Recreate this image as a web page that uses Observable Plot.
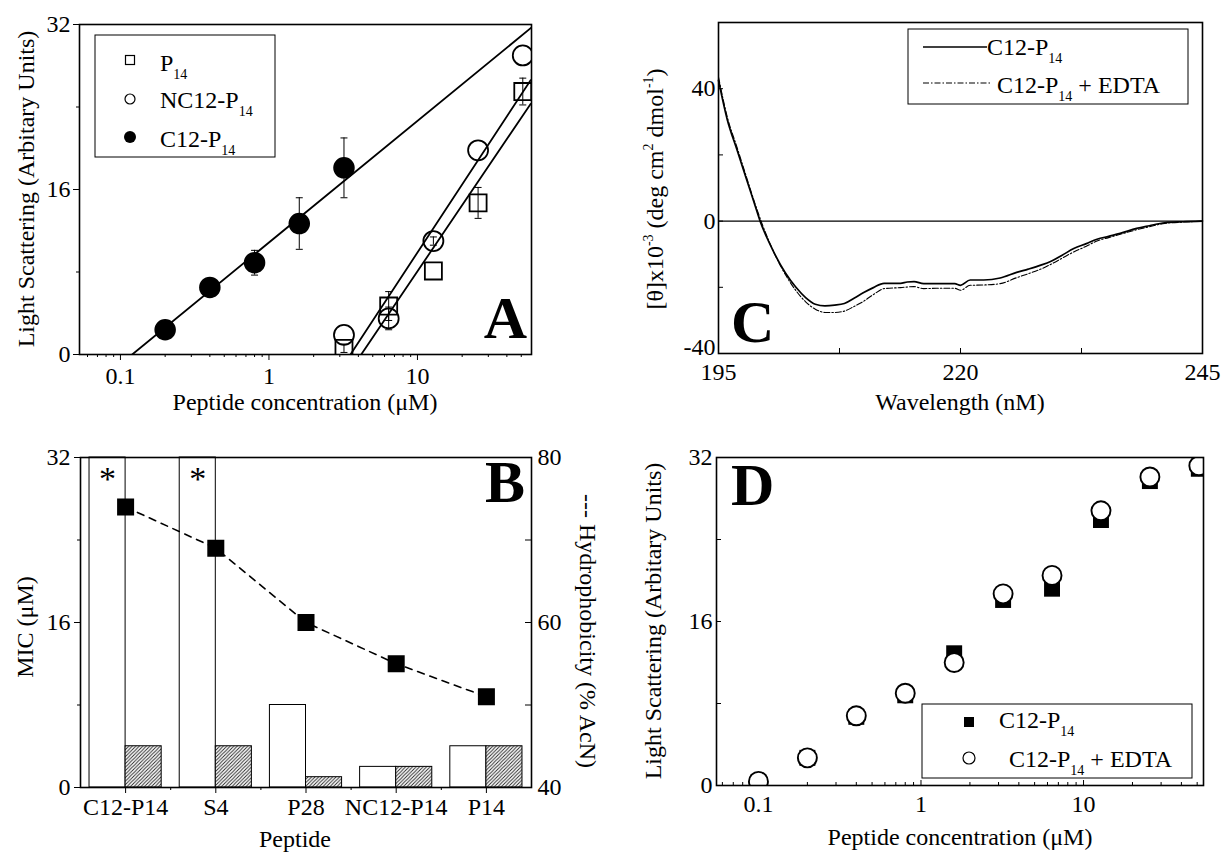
<!DOCTYPE html>
<html>
<head>
<meta charset="utf-8">
<script src="https://cdn.jsdelivr.net/npm/d3@7"></script>
<script src="https://cdn.jsdelivr.net/npm/@observablehq/plot@0.6"></script>
<style>
html,body{margin:0;padding:0;background:#fff;overflow:hidden;}
#fig{position:relative;width:1223px;height:854px;background:#fff;}
#fig svg{position:absolute;left:0;top:0;}
</style>
</head>
<body>
<div id="fig"></div>
<script>
// ================= DATA =================
// Panel A : light scattering vs peptide concentration (log axis)
const aC12Conc = [0.2, 0.4, 0.8, 1.6, 3.2];
const aC12Scatter = [2.4, 6.5, 8.9, 12.7, 18.1];
const aC12Err = [0.4, 0.4, 1.2, 2.5, 2.9];
const aConc = [3.2, 6.4, 12.8, 25.6, 51.2];
const aP14Scatter = [0.6, 4.7, 8.1, 14.7, 25.5];
const aP14Err = [0.4, 1.4, 0, 1.5, 1.3];
const aNC12Scatter = [1.9, 3.5, 11.0, 19.8, 29.0];
const aNC12Err = [0, 1.1, 0.4, 0, 0];
// fitted lines (end points)
const aFitC12Conc = [0.12, 62];
const aFitC12Val = [0, 32];
const aFitP14Conc = [3.54, 57.8];
const aFitP14Val = [0, 26.6];
const aFitNC12Conc = [4.18, 57.8];
const aFitNC12Val = [0, 24.3];

// Panel B : MIC bars and hydrophobicity
const bPeptides = ["C12-P14", "S4", "P28", "NC12-P14", "P14"];
const bMicOpen = [32, 32, 8, 2, 4];
const bMicOver = [true, true, false, false, false];
const bMicHatched = [4, 4, 1, 2, 4];
const bHydrophobicity = [74, 69, 60, 55, 51];

// Panel C : CD spectra
const cWaveSolid = [195,195.9,196.9,197.9,198.8,199.3,200.4,201.9,203,204,205,206,207,208,209,210,211,212.1,213,213.8,214.5,215.2,216.2,217.5,219.4,220,221,222.4,224.1,225.8,227,228.3,229.3,230.5,231.7,233,234.1,235.3,236.5,238.2,239.5,241.1,243,245];
const cThetaSolid = [42.5,30.7,21.6,12.6,4.5,0,-7.5,-15.6,-20,-23.1,-25.1,-25.6,-25.4,-24.9,-23.3,-21.6,-20.1,-18.8,-18.8,-18.8,-18.4,-18.3,-18.9,-18.9,-18.9,-19.4,-17.8,-17.8,-17.2,-15.5,-14.5,-13.3,-12.2,-10.3,-8.3,-6.8,-5.5,-4.6,-3.7,-2.2,-1.4,-0.5,-0.2,0];
const cWaveEdta = [195,195.9,196.9,197.9,198.8,199.4,200.5,202,203,204,205,206,207,208,209,210,211,212.1,213.8,215.2,216.2,217.5,219.4,220,221,222.4,224.1,225.8,227,228.3,229.5,230.5,231.7,233,234.1,235.3,236.5,238.2,239.5,241.1,243,245];
const cThetaEdta = [43.5,31.5,22.4,13.2,5,0,-8,-16.6,-21,-24.4,-26.6,-27.6,-27.6,-27.2,-25.8,-24.2,-22.2,-20.4,-20.1,-19.8,-20.4,-20.3,-20.3,-20.9,-19.4,-19.3,-18.9,-17.1,-15.9,-14.5,-12.8,-11.2,-9.3,-7.6,-6,-5,-4,-2.6,-1.7,-0.7,-0.3,0];

// Panel D : light scattering with / without EDTA
const dConc = [0.1, 0.2, 0.4, 0.8, 1.6, 3.2, 6.4, 12.8, 25.6, 51.2];
const dC12 = [0.3, 2.7, 6.7, 8.8, 12.9, 18.1, 19.2, 25.9, 29.7, 30.9];
const dEdta = [0.4, 2.7, 6.8, 9.0, 12.0, 18.7, 20.5, 26.8, 30.1, 31.2];

// Tick values
const concMajorTicks = [0.1, 1, 10];
const concMinorTicks = [0.06,0.07,0.08,0.09,0.2,0.3,0.4,0.5,0.6,0.7,0.8,0.9,2,3,4,5,6,7,8,9,20,30,40,50];
const scatterTicks = [0, 16, 32];
const scatterMinorTicks = [8, 24];
const hydroTicks = [40, 60, 80];
const hydroMinorTicks = [50, 70];
const waveTicks = [195, 220, 245];
const waveMinorTicks = [207.5, 232.5];
const thetaTicks = [-40, 0, 40];
const thetaMinorTicks = [-20, 20];

// ================= HELPERS =================
const FONT = '"Liberation Serif","Times New Roman",Times,serif';
const W = 1223, H = 854;
const fig = document.getElementById("fig");
const zip = (keys, ...cols) => cols[0].map((_, i) => Object.fromEntries(keys.map((k, j) => [k, cols[j][i]])));
const baseStyle = {fontFamily: FONT, fontSize: "24px", background: "transparent", maxWidth: "none", overflow: "visible", color: "black"};
const capSymbol = {draw(ctx, size) {const w = Math.sqrt(size / Math.PI); ctx.moveTo(-w, 0); ctx.lineTo(w, 0);}};
function mount(svg) {fig.appendChild(svg); return d3.select(svg);}
function richText(sel, x, y, parts, {size = 24, anchor = "start", rotate = 0, weight = null} = {}) {
  const t = sel.append("text").attr("x", x).attr("y", y)
    .attr("font-family", FONT).attr("font-size", size).attr("text-anchor", anchor).attr("fill", "black");
  if (weight) t.attr("font-weight", weight);
  if (rotate) t.attr("transform", `rotate(${rotate},${x},${y})`);
  let shift = 0;
  for (const p of parts) {
    const [txt, kind] = Array.isArray(p) ? p : [p, null];
    const target = kind === "sub" ? Math.round(size * 0.33) : kind === "sup" ? -Math.round(size * 0.4) : 0;
    const ts = t.append("tspan").text(txt).attr("dy", target - shift);
    if (kind) ts.attr("font-size", Math.round(size * 0.58));
    shift = target;
  }
  return t;
}
const frameOpts = (F) => ({width: W, height: H, marginLeft: F.l, marginRight: W - F.r, marginTop: F.t, marginBottom: H - F.b});

// ================= PANEL A =================
const FA = {l: 79, r: 531, t: 24, b: 354};
const aC12 = zip(["conc", "v", "e"], aC12Conc, aC12Scatter, aC12Err);
const aP14 = zip(["conc", "v", "e"], aConc, aP14Scatter, aP14Err);
const aNC12 = zip(["conc", "v", "e"], aConc, aNC12Scatter, aNC12Err);
const aErr = [...aC12, ...aP14, ...aNC12].filter(d => d.e > 0);
const aFits = [
  zip(["conc", "v"], aFitC12Conc, aFitC12Val),
  zip(["conc", "v"], aFitP14Conc, aFitP14Val),
  zip(["conc", "v"], aFitNC12Conc, aFitNC12Val)
];
const svgA = Plot.plot({
  ...frameOpts(FA),
  style: baseStyle,
  x: {type: "log", domain: [0.053, 58.6]},
  y: {domain: [0, 32]},
  marks: [
    Plot.axisX({ticks: concMinorTicks, tickSize: 3, tickFormat: () => "", label: null}),
    Plot.axisX({ticks: concMajorTicks, tickSize: 6, tickPadding: 6, tickFormat: d => String(d), label: null}),
    Plot.axisY({ticks: scatterMinorTicks, tickSize: 3, tickFormat: () => "", label: null}),
    Plot.axisY({ticks: scatterTicks, tickSize: 6, tickPadding: 3, tickFormat: d => String(d), label: null}),
    ...aFits.map(f => Plot.line(f, {x: "conc", y: "v", stroke: "black", strokeWidth: 1.8, clip: true})),
    Plot.ruleX(aErr, {x: "conc", y1: d => d.v - d.e, y2: d => d.v + d.e, stroke: "black", strokeWidth: 1}),
    Plot.dot(aErr, {x: "conc", y: d => d.v + d.e, symbol: capSymbol, r: 3.5, stroke: "black", strokeWidth: 1}),
    Plot.dot(aErr, {x: "conc", y: d => d.v - d.e, symbol: capSymbol, r: 3.5, stroke: "black", strokeWidth: 1}),
    Plot.dot(aC12, {x: "conc", y: "v", r: 10, fill: "black", stroke: "black"}),
    Plot.dot(aNC12, {x: "conc", y: "v", r: 10, fill: "none", stroke: "black", strokeWidth: 1.8, clip: true}),
    Plot.dot(aP14, {x: "conc", y: "v", symbol: "square", r: 9.6, fill: "none", stroke: "black", strokeWidth: 1.8, clip: true}),
    Plot.frame({stroke: "black", strokeWidth: 1.6})
  ]
});
const sA = mount(svgA);
{
  const g = sA.append("g");
  g.append("rect").attr("x", 95).attr("y", 35).attr("width", 180).attr("height", 122)
    .attr("fill", "white").attr("stroke", "black").attr("stroke-width", 1);
  g.append("rect").attr("x", 125.5).attr("y", 55.5).attr("width", 9).attr("height", 9)
    .attr("fill", "none").attr("stroke", "black").attr("stroke-width", 1.2);
  g.append("circle").attr("cx", 130).attr("cy", 99).attr("r", 5).attr("fill", "none").attr("stroke", "black").attr("stroke-width", 1.2);
  g.append("circle").attr("cx", 130).attr("cy", 137).attr("r", 6).attr("fill", "black");
  richText(g, 160, 71, ["P", ["14", "sub"]], {size: 24});
  richText(g, 160, 108, ["NC12-P", ["14", "sub"]], {size: 24});
  richText(g, 160, 147, ["C12-P", ["14", "sub"]], {size: 24});
  richText(sA, 34, 189, ["Light Scattering (Arbitary Units)"], {size: 24, anchor: "middle", rotate: -90});
  richText(sA, 305, 410, ["Peptide concentration (\u03BCM)"], {size: 24, anchor: "middle"});
  richText(sA, 527, 338, ["A"], {size: 60, anchor: "end", weight: "bold"});
}

// ================= PANEL B =================
const FB = {l: 80, r: 531, t: 457, b: 787};
const bData = bPeptides.map((p, i) => ({i, p, open: bMicOpen[i], over: bMicOver[i], hatched: bMicHatched[i], h: bHydrophobicity[i]}));
const hy = h => (h - 40) * 32 / 40; // hydrophobicity (40..80 %) onto the MIC axis (0..32)
const svgB = Plot.plot({
  ...frameOpts(FB),
  style: baseStyle,
  x: {domain: [-0.5, 4.5]},
  y: {domain: [0, 32]},
  marks: [
    Plot.rect(bData, {x1: d => d.i - 0.4, x2: "i", y1: 0, y2: "open", fill: "white", stroke: "black", strokeWidth: 1}),
    Plot.rect(bData, {x1: "i", x2: d => d.i + 0.4, y1: 0, y2: "hatched", fill: "url(#hatchB)", stroke: "black", strokeWidth: 1}),
    Plot.line(bData, {x: "i", y: d => hy(d.h), stroke: "black", strokeWidth: 1.6, strokeDasharray: "7,6"}),
    Plot.dot(bData, {x: "i", y: d => hy(d.h), symbol: "square", r: 9.6, fill: "black"}),
    Plot.text(bData.filter(d => d.over), {x: d => d.i - 0.2, y: 32, text: () => "*", dy: 22, fontSize: 34}),
    Plot.axisX({ticks: [0, 1, 2, 3, 4], tickSize: 6, tickPadding: 4, tickFormat: i => bPeptides[i], label: null}),
    Plot.axisX({ticks: [0.5, 1.5, 2.5, 3.5], tickSize: 3, tickFormat: () => "", label: null}),
    Plot.axisY({ticks: scatterTicks, tickSize: 6, tickPadding: 4, tickFormat: d => String(d), label: null}),
    Plot.axisY({ticks: scatterMinorTicks, tickSize: 3, tickFormat: () => "", label: null}),
    Plot.axisY({anchor: "right", ticks: hydroTicks.map(hy), tickSize: 0, tickPadding: 6, tickFormat: v => String(Math.round(v * 40 / 32 + 40)), label: null}),
    Plot.tickY([...hydroTicks, ...hydroMinorTicks].map(hy), {y: d => d, insetLeft: (FB.r - FB.l) - 6, stroke: "black"}),
    Plot.frame({stroke: "black", strokeWidth: 1.6})
  ]
});
const sB = mount(svgB);
{
  const defs = sB.insert("defs", ":first-child");
  const pat = defs.append("pattern").attr("id", "hatchB").attr("patternUnits", "userSpaceOnUse").attr("width", 3.5).attr("height", 3.5);
  pat.append("rect").attr("width", 3.5).attr("height", 3.5).attr("fill", "white");
  pat.append("path").attr("d", "M-1,1L1,-1M0,3.5L3.5,0M2.5,4.5L4.5,2.5").attr("stroke", "#222").attr("stroke-width", 0.9);
  richText(sB, 33, 627, ["MIC (\u03BCM)"], {size: 24, anchor: "middle", rotate: -90});
  richText(sB, 295, 847, ["Peptide"], {size: 24, anchor: "middle"});
  richText(sB, 580, 631, ["--- Hydrophobicity (% AcN)"], {size: 24, anchor: "middle", rotate: 90});
  richText(sB, 525, 502, ["B"], {size: 60, anchor: "end", weight: "bold"});
}

// ================= PANEL C =================
const FC = {l: 718, r: 1202, t: 22, b: 353};
const cSolid = zip(["wl", "theta"], cWaveSolid, cThetaSolid);
const cEdtaData = zip(["wl", "theta"], cWaveEdta, cThetaEdta);
const svgC = Plot.plot({
  ...frameOpts(FC),
  style: baseStyle,
  x: {domain: [195, 245]},
  y: {domain: [-40, 60]},
  marks: [
    Plot.ruleY([0], {stroke: "black", strokeWidth: 1.2}),
    Plot.line(cEdtaData, {x: "wl", y: "theta", curve: "monotone-x", stroke: "black", strokeWidth: 1.1, strokeDasharray: "6,2,1.5,2"}),
    Plot.line(cSolid, {x: "wl", y: "theta", curve: "monotone-x", stroke: "black", strokeWidth: 1.7}),
    Plot.axisX({ticks: waveTicks, tickSize: 0, tickPadding: 9, tickFormat: d => String(d), label: null}),
    Plot.axisY({ticks: thetaTicks.slice(1), tickSize: 0, tickPadding: 3, tickFormat: d => String(d), label: null}),
    Plot.axisY({ticks: thetaTicks.slice(0, 1), tickSize: 0, tickPadding: 3, dy: -6, tickFormat: d => String(d), label: null}),
    Plot.tickX([...waveTicks, ...waveMinorTicks], {x: d => d, insetTop: (FC.b - FC.t) - 5, stroke: "black"}),
    Plot.tickY([...thetaTicks, ...thetaMinorTicks], {y: d => d, insetRight: (FC.r - FC.l) - 5, stroke: "black"}),
    Plot.frame({stroke: "black", strokeWidth: 1.6})
  ]
});
const sC = mount(svgC);
{
  const g = sC.append("g");
  g.append("rect").attr("x", 908).attr("y", 29).attr("width", 280).attr("height", 75)
    .attr("fill", "white").attr("stroke", "black").attr("stroke-width", 1);
  g.append("line").attr("x1", 923).attr("x2", 987).attr("y1", 47).attr("y2", 47).attr("stroke", "black").attr("stroke-width", 1.7);
  g.append("line").attr("x1", 923).attr("x2", 991).attr("y1", 83).attr("y2", 83).attr("stroke", "black").attr("stroke-width", 1.1).attr("stroke-dasharray", "6,2,1.5,2");
  richText(g, 987, 55, ["C12-P", ["14", "sub"]], {size: 24});
  richText(g, 997, 93, ["C12-P", ["14", "sub"], " + EDTA"], {size: 24});
  richText(sC, 663, 189, ["[\u03B8]x10", ["-3", "sup"], " (deg cm", ["2", "sup"], " dmol", ["-1", "sup"], ")"], {size: 24, anchor: "middle", rotate: -90});
  richText(sC, 960, 410, ["Wavelength (nM)"], {size: 24, anchor: "middle"});
  richText(sC, 731, 342, ["C"], {size: 60, weight: "bold"});
}

// ================= PANEL D =================
const FD = {l: 716, r: 1203, t: 457, b: 785};
const dSq = zip(["conc", "v"], dConc, dC12);
const dCi = zip(["conc", "v"], dConc, dEdta);
const svgD = Plot.plot({
  ...frameOpts(FD),
  style: baseStyle,
  x: {type: "log", domain: [0.0552, 54.7]},
  y: {domain: [0, 32]},
  marks: [
    Plot.axisX({ticks: concMajorTicks, tickSize: 0, tickPadding: 9, tickFormat: d => String(d), label: null}),
    Plot.axisY({ticks: scatterTicks, tickSize: 0, tickPadding: 4, tickFormat: d => String(d), label: null}),
    Plot.tickX(concMajorTicks, {x: d => d, insetTop: (FD.b - FD.t) - 5, stroke: "black"}),
    Plot.tickX(concMinorTicks, {x: d => d, insetTop: (FD.b - FD.t) - 3, stroke: "black"}),
    Plot.tickY([...scatterTicks, ...scatterMinorTicks], {y: d => d, insetRight: (FD.r - FD.l) - 5, stroke: "black"}),
    Plot.dot(dSq, {x: "conc", y: "v", symbol: "square", r: 9, fill: "black", clip: true}),
    Plot.dot(dCi, {x: "conc", y: "v", r: 9.5, fill: "white", stroke: "black", strokeWidth: 1.9, clip: true}),
    Plot.frame({stroke: "black", strokeWidth: 1.6})
  ]
});
const sD = mount(svgD);
{
  const g = sD.append("g");
  g.append("rect").attr("x", 922).attr("y", 704).attr("width", 270).attr("height", 74)
    .attr("fill", "white").attr("stroke", "black").attr("stroke-width", 1);
  g.append("rect").attr("x", 964).attr("y", 717).attr("width", 10).attr("height", 10).attr("fill", "black");
  g.append("circle").attr("cx", 969).attr("cy", 758).attr("r", 6).attr("fill", "white").attr("stroke", "black").attr("stroke-width", 1.2);
  richText(g, 999, 728, ["C12-P", ["14", "sub"]], {size: 24});
  richText(g, 1009, 767, ["C12-P", ["14", "sub"], " + EDTA"], {size: 24});
  richText(sD, 661, 621, ["Light Scattering (Arbitary Units)"], {size: 24, anchor: "middle", rotate: -90});
  richText(sD, 960, 845, ["Peptide concentration (\u03BCM)"], {size: 24, anchor: "middle"});
  richText(sD, 731, 505, ["D"], {size: 60, weight: "bold"});
}
</script>
</body>
</html>
